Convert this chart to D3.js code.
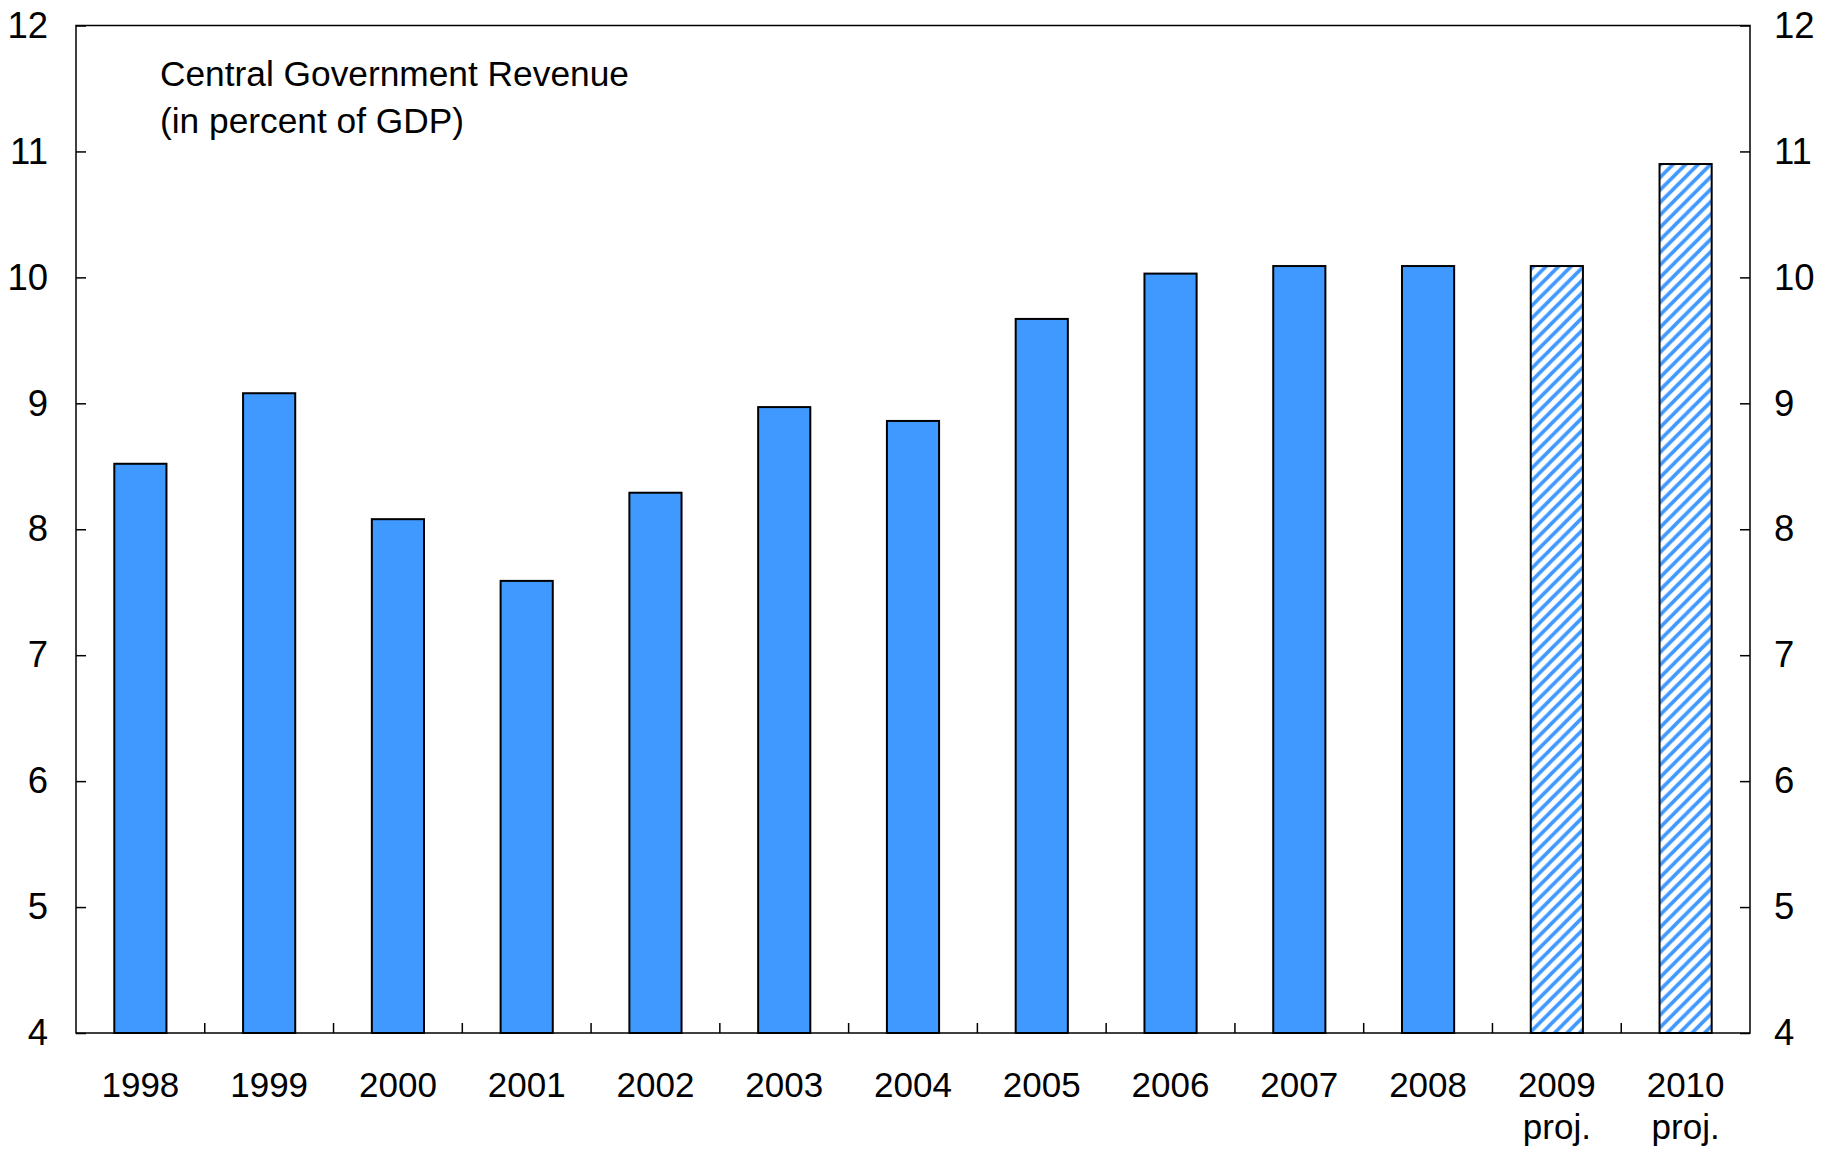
<!DOCTYPE html>
<html>
<head>
<meta charset="utf-8">
<script src="https://cdn.jsdelivr.net/npm/d3@7"></script>
<style>
  body { margin: 0; background: #fff; }
  svg { display: block; }
  .axis text { font-family: "Liberation Sans", Arial, sans-serif; font-size: 35px; fill: #000; }
  .axis.yaxis text { font-size: 36.5px; }
  .axis line { stroke: #000; stroke-width: 1.5; }
</style>
</head>
<body>
<div id="chart"></div>
<script>
// data
const years = ["1998", "1999", "2000", "2001", "2002", "2003", "2004", "2005", "2006", "2007", "2008", "2009", "2010"];
const revenue = [8.52, 9.08, 8.08, 7.59, 8.29, 8.97, 8.86, 9.67, 10.03, 10.09, 10.09, 10.09, 10.90];
const projYears = ["2009", "2010"];
const yTicks = [4, 5, 6, 7, 8, 9, 10, 11, 12];
const titleLines = ["Central Government Revenue", "(in percent of GDP)"];

const width = 1824, height = 1155;
const left_margin = 76, right_edge = 1750;
const top_margin = 25.5, bottom_margin = 1033;
const barColor = "#4099ff";

const rows = years.map((y, i) => ({ year: y, value: revenue[i], proj: projYears.includes(y) }));

const svg = d3.select("#chart")
  .append("svg")
  .attr("width", width)
  .attr("height", height);

// hatch for projected years
const hs = 12.5;
const defs = svg.append("defs");
const pat = defs.append("pattern")
  .attr("id", "hatch")
  .attr("patternUnits", "userSpaceOnUse")
  .attr("width", hs)
  .attr("height", hs);
pat.append("rect").attr("width", hs).attr("height", hs).attr("fill", "#fff");
pat.append("path")
  .attr("d", `M0,${hs} L${hs},0 M-3,3 L3,-3 M${hs - 3},${hs + 3} L${hs + 3},${hs - 3}`)
  .attr("stroke", barColor)
  .attr("stroke-width", 3.6);

const xScale = d3.scaleBand()
  .domain(years)
  .range([left_margin, right_edge])
  .padding(0);

const yScale = d3.scaleLinear()
  .domain([4, 12])
  .range([bottom_margin, top_margin]);

const barW = xScale.bandwidth() * 0.405;

// bars
svg.append("g")
  .selectAll("rect")
  .data(rows)
  .enter()
  .append("rect")
  .attr("x", d => xScale(d.year) + xScale.bandwidth() / 2 - barW / 2)
  .attr("y", d => yScale(d.value))
  .attr("width", barW)
  .attr("height", d => yScale(4) - yScale(d.value))
  .attr("fill", d => d.proj ? "url(#hatch)" : barColor)
  .attr("stroke", "#000")
  .attr("stroke-width", 2);

// Y axes, ticks pointing inward
const yLeft = svg.append("g")
  .attr("class", "axis yaxis")
  .attr("transform", `translate(${left_margin},0)`)
  .call(d3.axisLeft(yScale).tickValues(yTicks).tickSize(-10).tickPadding(28));
yLeft.select(".domain").remove();

const yRight = svg.append("g")
  .attr("class", "axis yaxis")
  .attr("transform", `translate(${right_edge},0)`)
  .call(d3.axisRight(yScale).tickValues(yTicks).tickSize(-10).tickPadding(24));
yRight.select(".domain").remove();

// X axis labels
const xAxis = svg.append("g")
  .attr("class", "axis")
  .attr("transform", `translate(0,${bottom_margin})`)
  .call(d3.axisBottom(xScale).tickSize(0).tickPadding(39));
xAxis.select(".domain").remove();
xAxis.selectAll(".tick text")
  .filter(d => projYears.includes(d))
  .append("tspan")
  .attr("x", 0)
  .attr("dy", "1.2em")
  .text("proj.");

// x ticks between categories, pointing up
svg.append("g")
  .selectAll("line")
  .data(years.slice(1))
  .enter()
  .append("line")
  .attr("x1", d => xScale(d))
  .attr("x2", d => xScale(d))
  .attr("y1", bottom_margin)
  .attr("y2", bottom_margin - 10)
  .attr("stroke", "#000")
  .attr("stroke-width", 1.5);

// frame
svg.append("rect")
  .attr("x", left_margin)
  .attr("y", top_margin)
  .attr("width", right_edge - left_margin)
  .attr("height", bottom_margin - top_margin)
  .attr("fill", "none")
  .attr("stroke", "#000")
  .attr("stroke-width", 1.5);

// title
svg.append("g")
  .selectAll("text")
  .data(titleLines)
  .enter()
  .append("text")
  .attr("x", 160)
  .attr("y", (d, i) => 86 + i * 46.5)
  .style("font-family", "\"Liberation Sans\", Arial, sans-serif")
  .style("font-size", "35.3px")
  .text(d => d);
</script>
</body>
</html>
